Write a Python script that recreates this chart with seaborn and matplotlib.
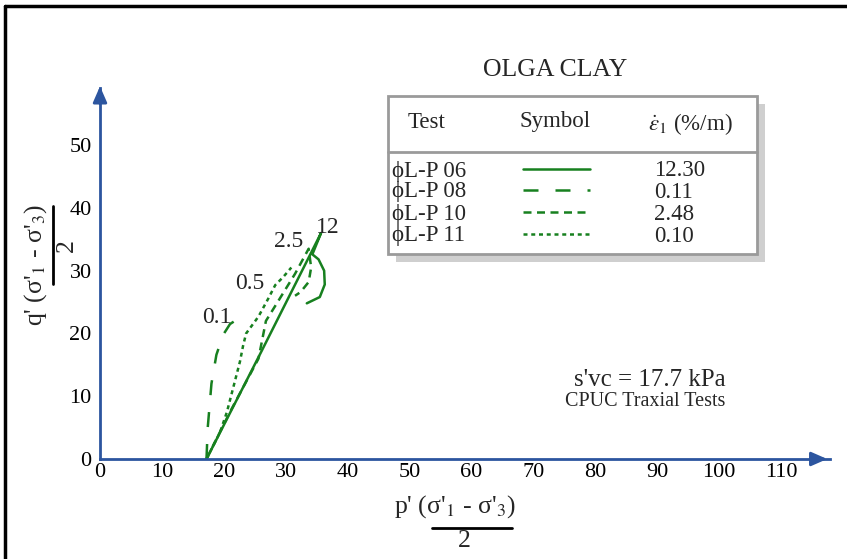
import matplotlib
matplotlib.use("Agg")
import matplotlib.pyplot as plt
from matplotlib.lines import Line2D
from matplotlib.patches import Rectangle
import seaborn as sns
import pandas as pd

# ---------------- data ----------------
tests = ["\u03d5L-P 06", "\u03d5L-P 08", "\u03d5L-P 10", "\u03d5L-P 11"]
rates = ["12.30", "0.11", "2.48", "0.10"]
curve_labels = ["12", "0.1", "2.5", "0.5"]

p_06 = [17.2, 26.0, 35.7, 34.3, 35.3, 36.2, 36.3, 35.5, 33.4]
q_06 = [0.0, 17.0, 36.0, 32.6, 31.8, 30.0, 27.8, 25.8, 24.8]

p_08 = [17.2, 17.4, 18.0, 18.8, 19.9, 21.0, 22.1]
q_08 = [0.0, 5.0, 12.0, 16.6, 19.8, 21.5, 22.2]

p_10 = [17.2, 21.0, 25.6, 26.8, 29.0, 31.5, 33.7, 34.1, 33.7, 32.4, 31.5]
q_10 = [0.0, 7.5, 16.0, 22.0, 25.5, 29.5, 33.5, 30.5, 28.2, 26.6, 26.0]

p_11 = [17.2, 19.4, 20.5, 21.5, 22.6, 23.1, 23.6, 25.6, 27.2, 28.3, 29.6, 30.9]
q_11 = [0.0, 4.3, 7.5, 11.3, 15.5, 18.0, 20.0, 22.7, 25.6, 27.7, 29.0, 30.5]

x_ticks = [0, 10, 20, 30, 40, 50, 60, 70, 80, 90, 100, 110]
y_ticks = [0, 10, 20, 30, 40, 50]

# ---------------- style ----------------
sns.set_theme(style="white")
plt.rcParams["font.family"] = ["Liberation Serif", "DejaVu Serif"]
plt.rcParams["mathtext.fontset"] = "stix"

GREEN = "#17801f"
BLUE = "#2c559f"
W, H = 847, 559

fig = plt.figure(figsize=(W / 100, H / 100), dpi=100)


def px(x, y):
    return x / W, 1 - y / H


ax = fig.add_axes([100 / W, 100 / H, 730 / W, 371 / H])

frames = []
for name, p, q in [("06", p_06, q_06), ("08", p_08, q_08),
                   ("10", p_10, q_10), ("11", p_11, q_11)]:
    frames.append(pd.DataFrame({"p": p, "q": q, "test": name,
                                "order": range(len(p))}))
df = pd.concat(frames, ignore_index=True)

lw = 1.8
styles = {
    "06": "-",
    "08": (0, (6.0, 6.8)),
    "10": (0, (3.2, 2.2)),
    "11": (0, (1.6, 1.5)),
}
for name, sub in df.groupby("test"):
    sns.lineplot(data=sub, x="p", y="q", sort=False, ax=ax, color=GREEN,
                 lw=lw, linestyle=styles[name], legend=False, estimator=None)

ax.set_xlim(0, 117.9)
ax.set_ylim(0, 59.1)
ax.set_xlabel("")
ax.set_ylabel("")
for s in ["top", "right"]:
    ax.spines[s].set_visible(False)
for s in ["left", "bottom"]:
    ax.spines[s].set_color(BLUE)
    ax.spines[s].set_linewidth(2)
ax.set_xticks(x_ticks)
ax.set_yticks(y_ticks)
ax.set_xticklabels([str(v) for v in x_ticks])
ax.set_yticklabels([str(v) for v in y_ticks])
ax.tick_params(axis="both", direction="in", length=9, width=2, color=BLUE,
               labelsize=16, labelcolor="black")
ax.tick_params(axis="x", pad=3)
ax.tick_params(axis="y", pad=6)
ax.set_facecolor("white")

# arrows at axis ends
ax.annotate("", xy=(1.0, 0), xytext=(0.97, 0), xycoords="axes fraction",
            arrowprops=dict(arrowstyle="-|>,head_length=0.8,head_width=0.35",
                            color=BLUE, lw=2), annotation_clip=False)
ax.annotate("", xy=(0, 1.012), xytext=(0, 0.95), xycoords="axes fraction",
            arrowprops=dict(arrowstyle="-|>,head_length=0.8,head_width=0.35",
                            color=BLUE, lw=2), annotation_clip=False)

# curve labels
ax.text(21.3, 20.9, "0.1", fontsize=17, ha="right", va="bottom")
ax.text(26.5, 26.3, "0.5", fontsize=17, ha="right", va="bottom")
ax.text(32.8, 33.0, "2.5", fontsize=17, ha="right", va="bottom")
ax.text(34.8, 35.2, "12", fontsize=17, ha="left", va="bottom")

# ---------------- figure frame ----------------
fig.add_artist(Line2D([px(5, 0)[0], 1], [px(0, 6)[1]] * 2, color="black", lw=2.5))
fig.add_artist(Line2D([px(5, 0)[0]] * 2, [0, px(0, 6)[1]], color="black", lw=2.5))

# ---------------- title & annotations ----------------
fig.text(*px(555, 70), "OLGA CLAY", fontsize=18.5, ha="center", va="center")
fig.text(*px(650, 380), "s'vc = 17.7 kPa", fontsize=18, ha="center", va="center")
fig.text(*px(645, 402), "CPUC Traxial Tests", fontsize=14.5, ha="center", va="center")

# ---------------- legend table ----------------
x0, y0, x1, y1 = 388, 96, 757, 254
sh = 8
fig.add_artist(Rectangle(px(x0 + sh, y1 + sh), (x1 - x0) / W, (y1 - y0) / H,
                         facecolor="#cfcfcf", edgecolor="none"))
fig.add_artist(Rectangle(px(x0, y1), (x1 - x0) / W, (y1 - y0) / H,
                         facecolor="white", edgecolor="#9a9a9a", lw=2))
fig.add_artist(Line2D([px(x0, 0)[0], px(x1, 0)[0]], [px(0, 152)[1]] * 2,
                      color="#9a9a9a", lw=2))
fig.text(*px(427, 122), "Test", fontsize=16.5, ha="center", va="center")
fig.text(*px(555, 121), "Symbol", fontsize=16.5, ha="center", va="center")
fig.text(*px(690, 124), r"$\dot{\epsilon}_1$ (%/m)", fontsize=16.5,
         ha="center", va="center")
rows_y = [171, 192, 214, 236]
for name, t, r, yy in zip(["06", "08", "10", "11"], tests, rates, rows_y):
    fig.text(*px(392, yy), t, fontsize=16.5, ha="left", va="center")
    fig.text(*px(654, yy), r, fontsize=16.5, ha="left", va="center")
    fig.add_artist(Line2D([px(523, 0)[0], px(590, 0)[0]], [px(0, yy - 2)[1]] * 2,
                          color=GREEN, lw=lw, linestyle=styles[name]))

# ---------------- axis labels (fraction style) ----------------
fig.text(*px(455, 507), r"p' (σ'$_1$ - σ'$_3$)", fontsize=18.5, ha="center", va="center")
fig.add_artist(Line2D([px(432, 0)[0], px(512, 0)[0]], [px(0, 528)[1]] * 2,
                      color="black", lw=2))
fig.text(*px(464, 541), "2", fontsize=18.5, ha="center", va="center")

fig.text(*px(36, 265), r"q' (σ'$_1$ - σ'$_3$)", fontsize=18.5, ha="center",
         va="center", rotation=90)
fig.add_artist(Line2D([px(53, 0)[0]] * 2, [px(0, 206)[1], px(0, 284)[1]],
                      color="black", lw=2))
fig.text(*px(67, 246), "2", fontsize=18.5, ha="center", va="center", rotation=90)

fig.savefig("out.png", dpi=100)
